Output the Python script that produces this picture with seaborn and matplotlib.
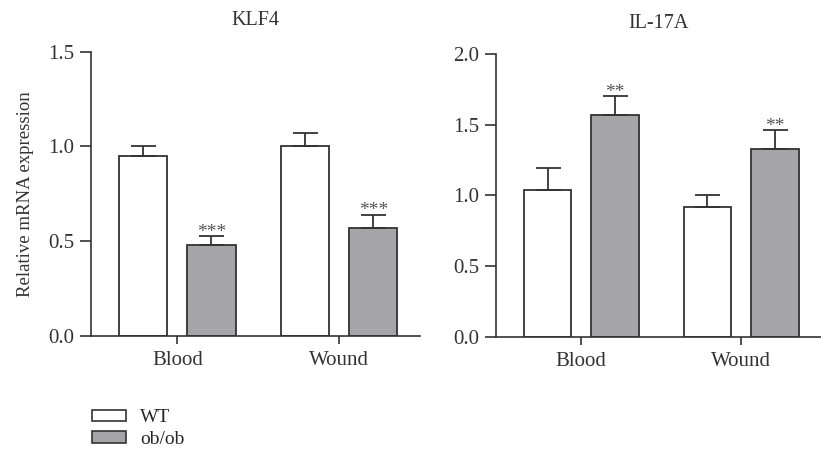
import numpy as np
import pandas as pd
import matplotlib
matplotlib.use('Agg')
import matplotlib.pyplot as plt
import seaborn as sns
from matplotlib.patches import Patch

# values
sites = ['Blood', 'Wound']
groups = ['WT', 'ob/ob']

klf4_wt = [0.95, 1.00]
klf4_wt_err = [0.05, 0.07]
klf4_ob = [0.48, 0.57]
klf4_ob_err = [0.045, 0.07]

il17_wt = [1.04, 0.92]
il17_wt_err = [0.15, 0.08]
il17_ob = [1.57, 1.33]
il17_ob_err = [0.13, 0.13]

klf4_stars = ['***', '***']
il17_stars = ['**', '**']

sns.set_style('ticks')
plt.rcParams['font.family'] = ['Liberation Serif', 'DejaVu Serif']
ink = '#333333'
palette = {'WT': 'white', 'ob/ob': '#a6a5a8'}

fig = plt.figure(figsize=(8.21, 4.55), dpi=100)
ax1 = fig.add_axes([0.1108, 0.262, 0.4008, 0.6244])
ax2 = fig.add_axes([0.6041, 0.260, 0.3959, 0.6213])


def panel(ax, title, wt, wt_err, ob, ob_err, stars, ymax, yticks):
    df = pd.DataFrame({
        'site': sites * 2,
        'group': ['WT'] * 2 + ['ob/ob'] * 2,
        'value': wt + ob,
    })
    sns.barplot(data=df, x='site', y='value', hue='group', order=sites,
                hue_order=groups, palette=palette, errorbar=None,
                width=0.844, gap=0.294, edgecolor=ink, linewidth=1.3,
                legend=False, ax=ax)
    errs = wt_err + ob_err
    bars = ax.patches[:4]
    for i, bar in enumerate(bars):
        xc = bar.get_x() + bar.get_width() / 2
        h = bar.get_height()
        ax.errorbar(xc, h, yerr=[[0], [errs[i]]], fmt='none', ecolor=ink,
                    elinewidth=1.3, capsize=9, capthick=1.3, zorder=1)
        if i >= 2:
            ax.annotate(stars[i - 2], (xc, h + errs[i]), xytext=(0, -3),
                        textcoords='offset points', ha='center', va='bottom',
                        fontsize=14, color='#555555')
    ax.set_ylim(0, ymax)
    ax.set_yticks(yticks)
    ax.set_yticklabels([f'{t:.1f}' for t in yticks])
    ax.set_xlim(-0.534, 1.50)
    ax.set_xlabel('')
    ax.set_ylabel('')
    ax.set_title(title, fontsize=14.5, color=ink, pad=19)
    sns.despine(ax=ax)
    for s in ['left', 'bottom']:
        ax.spines[s].set_color(ink)
        ax.spines[s].set_linewidth(1.2)
    ax.tick_params(axis='y', length=8, width=1.2, color=ink, labelsize=15,
                   labelcolor=ink, pad=4)
    ax.tick_params(axis='x', length=6, width=1.2, color=ink, labelsize=15,
                   labelcolor=ink, pad=5)


panel(ax1, 'KLF4', klf4_wt, klf4_wt_err, klf4_ob, klf4_ob_err, klf4_stars,
      1.5, [0.0, 0.5, 1.0, 1.5])
panel(ax2, 'IL-17A', il17_wt, il17_wt_err, il17_ob, il17_ob_err, il17_stars,
      2.0, [0.0, 0.5, 1.0, 1.5, 2.0])
ax1.set_ylabel('Relative mRNA expression', fontsize=13.5, color=ink, labelpad=10)

handles = [Patch(facecolor=palette[g], edgecolor=ink, linewidth=1.2, label=g)
           for g in groups]
fig.legend(handles=handles, loc='lower left', bbox_to_anchor=(0.112, 0.016),
           frameon=False, fontsize=14, handlelength=1.75, handleheight=0.55,
           labelspacing=0.22, handletextpad=0.72, borderaxespad=0.0,
           borderpad=0.0)

fig.savefig('out.png', dpi=100)
